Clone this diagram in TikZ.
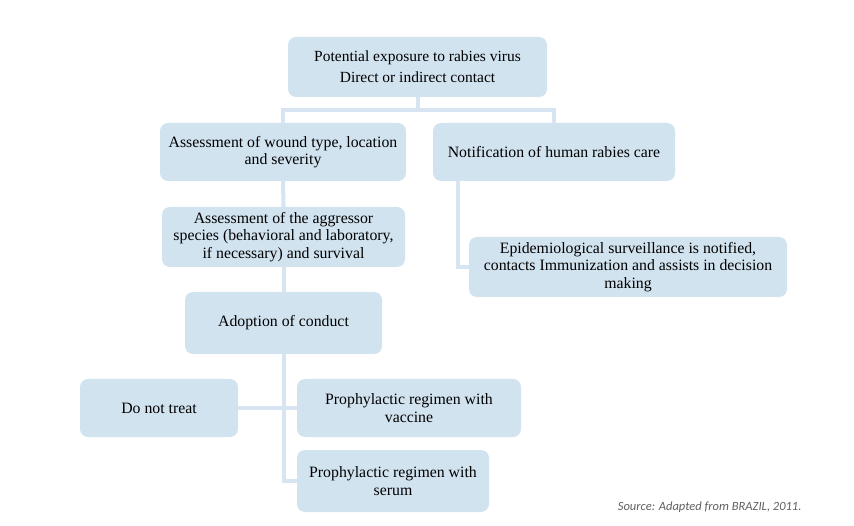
\documentclass[tikz,border=0pt]{standalone}
\usepackage{fontspec}
\setmainfont{Liberation Serif}
\newfontfamily\srcfont{Carlito}
\usetikzlibrary{calc}
\definecolor{boxfill}{RGB}{210,227,240}
\definecolor{linkcol}{RGB}{214,229,241}
\definecolor{srcgray}{RGB}{95,95,95}
\tikzset{
  box/.style={draw=none, fill=boxfill, rounded corners=8pt, align=center,
    inner sep=1pt, font=\fontsize{15.8}{17.5}\selectfont},
  link/.style={draw=linkcol, line width=4pt}
}
\begin{document}
\begin{tikzpicture}[x=1pt,y=-1pt]
\useasboundingbox (0,0) rectangle (854,526);
\node[box, minimum width=259pt, minimum height=60pt, font=\fontsize{15.5}{21}\selectfont] (top) at (417.5,67) {Potential exposure to rabies virus\\Direct or indirect contact};
\node[box, minimum width=246pt, minimum height=58pt] (wound) at (283,152) {Assessment of wound type, location\\and severity};
\node[box, minimum width=242pt, minimum height=58pt] (notif) at (554,152) {Notification of human rabies care};
\node[box, minimum width=243pt, minimum height=60pt] (aggr) at (283.5,237) {Assessment of the aggressor\\species (behavioral and laboratory,\\if necessary) and survival};
\node[box, minimum width=318pt, minimum height=60pt] (epi) at (628,267) {Epidemiological surveillance is notified,\\contacts Immunization and assists in decision\\making};
\node[box, minimum width=197pt, minimum height=62pt] (adopt) at (283.5,323) {Adoption of conduct};
\node[box, minimum width=158pt, minimum height=58pt] (dnt) at (159,408) {Do not treat};
\node[box, minimum width=224pt, minimum height=58pt] (vacc) at (409,408) {Prophylactic regimen with\\vaccine};
\node[box, minimum width=192pt, minimum height=62pt] (serum) at (393,481) {Prophylactic regimen with\\serum};
\node[font=\srcfont\itshape\fontsize{12.5}{14}\selectfont, text=srcgray, anchor=east] (src) at (805,507) {Source: Adapted from BRAZIL, 2011.};
\draw[link] (top.south) -- ++(0,13) -| (wound.north);
\draw[link] (top.south) -- ++(0,13) -| (notif.north);
\draw[link] (wound.south) -- (aggr.north);
\draw[link] (aggr.south) -- (adopt.north);
\draw[link] ($(notif.south west)+(25,0)$) |- (epi.west);
\draw[link] (adopt.south) |- (serum.west);
\draw[link] (dnt.east) -- (vacc.west);
\end{tikzpicture}
\end{document}
